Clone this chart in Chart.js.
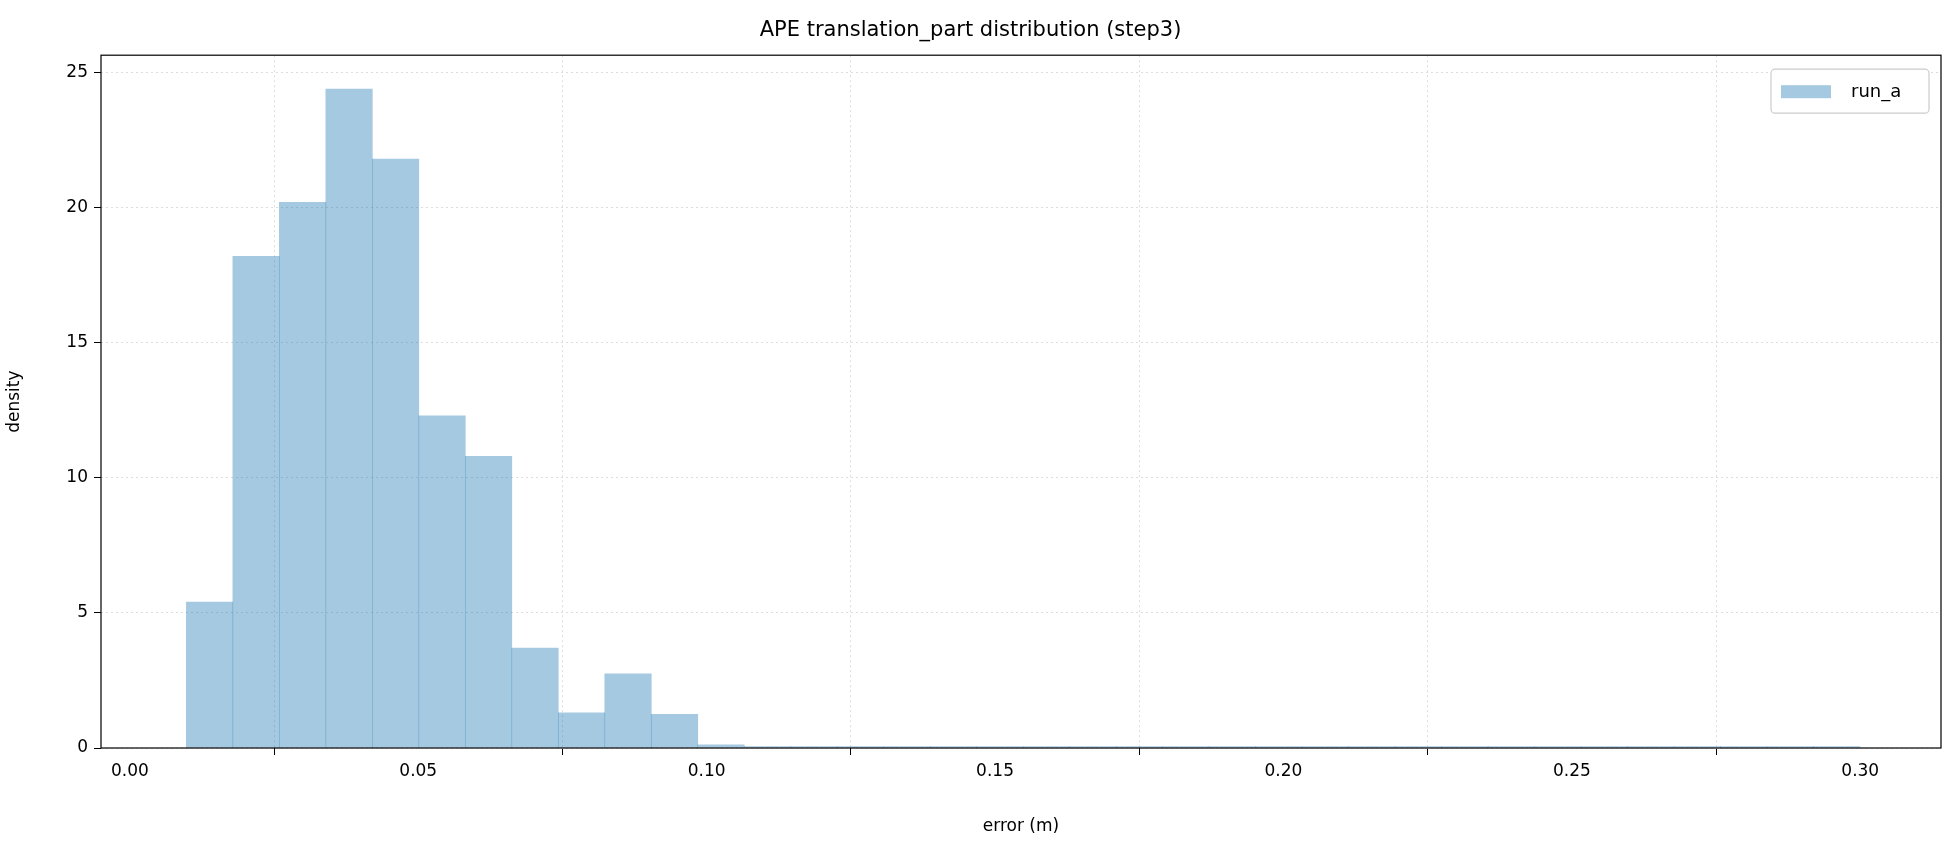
<!DOCTYPE html>
<html>
<head>
<meta charset="utf-8">
<script src="https://cdn.jsdelivr.net/npm/chart.js@4"></script>
<style>
  body { margin: 0; background: #fff; }
  #wrap { width: 1960px; height: 841px; }
</style>
</head>
<body>
<div id="wrap"><canvas id="grafico" width="1960" height="841"></canvas></div>
<script>
// histogram bin edges start at 0.0098, width ~0.00806 (36 bins up to 0.30)
const binStart = 0.0098;
const binWidth = 0.00806;
const densities = [5.4, 18.2, 20.2, 24.4, 21.8, 12.3, 10.8, 3.7, 1.3, 2.75, 1.25, 0.12,
    0.05, 0.05, 0.05, 0.05, 0.05, 0.05, 0.05, 0.05, 0.05, 0.05, 0.05, 0.05,
    0.05, 0.05, 0.05, 0.05, 0.05, 0.05, 0.05, 0.05, 0.05, 0.05, 0.05, 0.05];
const xTicks = [0.00, 0.05, 0.10, 0.15, 0.20, 0.25, 0.30];
const yTicks = [0, 5, 10, 15, 20, 25];

const points = densities.map((d, i) => ({ x: binStart + binWidth * (i + 0.5), y: d }));

const FONT = 'DejaVu Sans';

const frame = {
    id: 'frame',
    afterDraw(chart) {
        const { ctx, chartArea: a } = chart;
        ctx.save();
        ctx.strokeStyle = '#000';
        ctx.lineWidth = 1.2;
        ctx.strokeRect(a.left, a.top, a.right - a.left, a.bottom - a.top);
        // legend box
        const x = a.right - 170, y = a.top + 14;
        ctx.fillStyle = '#fff';
        ctx.strokeStyle = '#ccc';
        ctx.lineWidth = 1.2;
        ctx.beginPath();
        ctx.roundRect(x, y, 158, 44, 4);
        ctx.fill();
        ctx.stroke();
        ctx.fillStyle = 'rgba(31,119,180,0.4)';
        ctx.fillRect(x + 10, y + 16, 50, 13);
        ctx.fillStyle = '#000';
        ctx.font = '18px ' + FONT;
        ctx.textBaseline = 'middle';
        ctx.fillText('run_a', x + 80, y + 23);
        ctx.restore();
    }
};

new Chart(document.getElementById('grafico'), {
    type: 'bar',
    data: {
        datasets: [{
            label: 'run_a',
            data: points,
            backgroundColor: 'rgba(31,119,180,0.4)',
            borderWidth: 0,
            barPercentage: 1.0,
            categoryPercentage: 1.0
        }]
    },
    options: {
        responsive: false,
        animation: false,
        layout: { padding: { left: 0, right: 19, top: 0, bottom: 0 } },
        plugins: {
            legend: { display: false },
            tooltip: { enabled: false },
            title: {
                display: true,
                text: 'APE translation_part distribution (step3)',
                color: '#000',
                font: { family: FONT, size: 21, weight: 'normal' },
                padding: { top: 18, bottom: 12 }
            }
        },
        scales: {
            x: {
                type: 'linear',
                offset: false,
                min: -0.005,
                max: 0.314,
                afterBuildTicks: s => { s.ticks = xTicks.map(v => ({ value: v })); },
                afterFit: s => { s.height = 93; },
                ticks: {
                    color: '#000',
                    font: { family: FONT, size: 17 },
                    callback: v => v.toFixed(2),
                    maxRotation: 0,
                    padding: 6
                },
                grid: { color: '#ddd', tickColor: '#000', tickLength: 7, drawOnChartArea: true },
                border: { display: false, dash: [2, 3] },
                title: { display: true, text: 'error (m)', color: '#000', font: { family: FONT, size: 17 }, padding: { top: 8 } }
            },
            y: {
                min: 0,
                max: 25.65,
                afterBuildTicks: s => { s.ticks = yTicks.map(v => ({ value: v })); },
                afterFit: s => { s.width = 101; },
                ticks: { color: '#000', font: { family: FONT, size: 17 }, padding: 6 },
                grid: { color: '#ddd', tickColor: '#000', tickLength: 7 },
                border: { display: false, dash: [2, 3] },
                title: { display: true, text: 'density', color: '#000', font: { family: FONT, size: 17 }, padding: { bottom: 4 } }
            }
        }
    },
    plugins: [frame]
});
</script>
</body>
</html>
